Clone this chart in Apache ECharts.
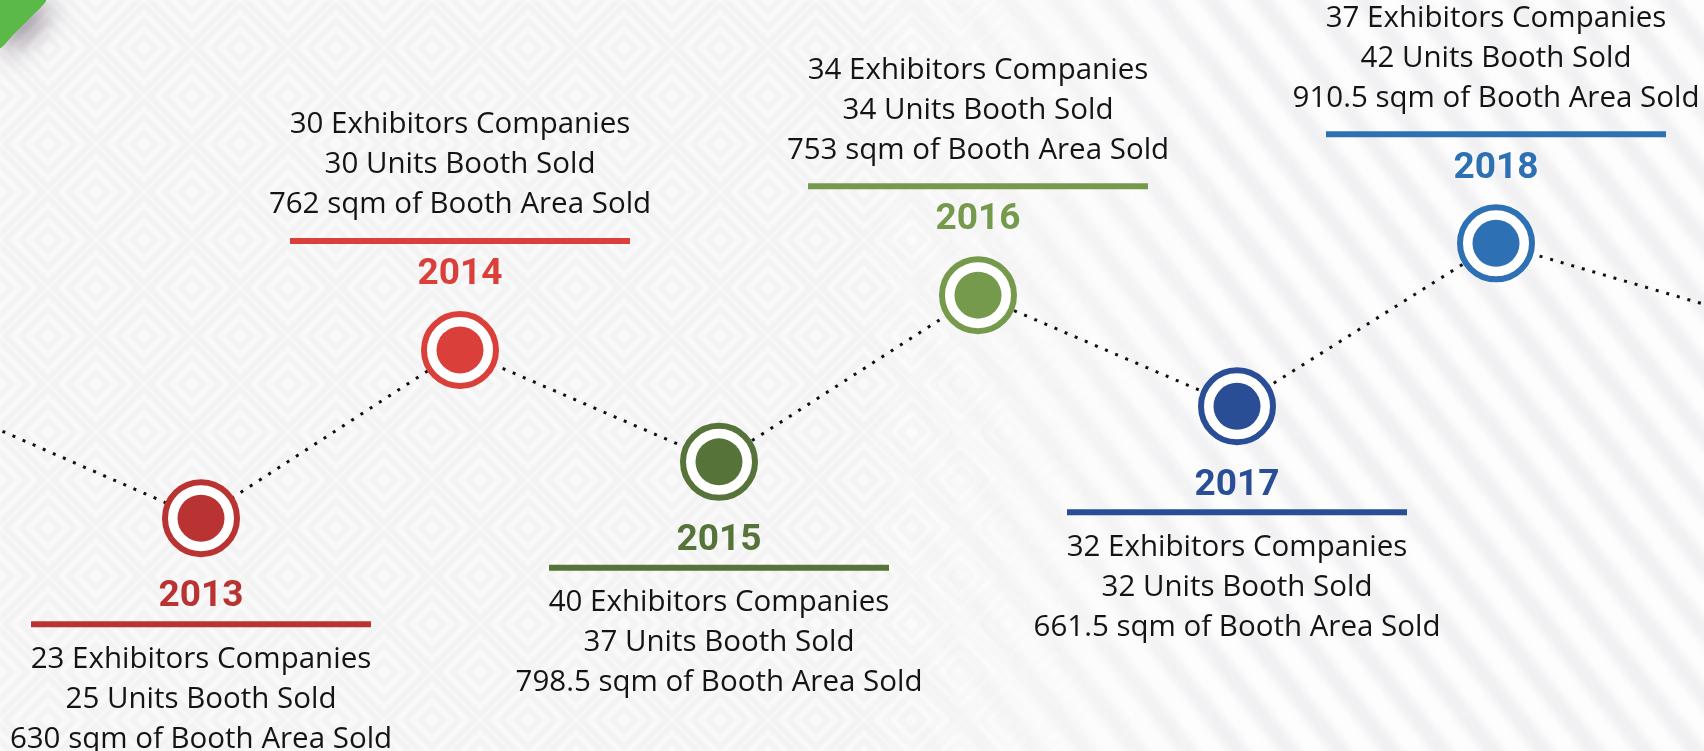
<!DOCTYPE html>
<html>
<head>
<meta charset="utf-8">
<script src="https://cdn.jsdelivr.net/npm/echarts@6/dist/echarts.min.js"></script>
<style>
html,body{margin:0;padding:0;background:#FAFAFA;}
#chart{width:1704px;height:751px;}
</style>
</head>
<body>
<div id="chart"></div>
<script>
// ---- data ----
// timeline categories (2012 and 2019 lie just outside the visible area; the dotted line runs to them)
const timelineYears = ['2012', '2013', '2014', '2015', '2016', '2017', '2018', '2019'];
// vertical level of each milestone on the zig-zag timeline (0-100 scale)
const timelineLevel = [46.1, 31.0, 53.4, 38.5, 60.7, 45.9, 67.6, 57.5];
// milestone years shown with markers
const milestoneYears = ['2013', '2014', '2015', '2016', '2017', '2018'];
const exhibitorCompanies = [23, 30, 40, 34, 32, 37];
const boothUnitsSold = [25, 30, 37, 34, 32, 42];
const boothAreaSqm = ['630', '762', '798.5', '753', '661.5', '910.5'];

// ---- styles ----
const yearColors = ['#B93333', '#DA3F3A', '#56733A', '#759A4C', '#2A4E96', '#2E70B4'];
const TEXT_FONT = '"Open Sans", sans-serif';
const YEAR_FONT = 'Roboto, "Open Sans", sans-serif';

function buildBackground(w, h) {
  const cv = document.createElement('canvas');
  cv.width = w; cv.height = h;
  const ctx = cv.getContext('2d');
  ctx.fillStyle = '#FAFAFA';
  ctx.fillRect(0, 0, w, h);

  // meander / diamond lattice on the left
  const P = 96;
  const tile = document.createElement('canvas');
  tile.width = P; tile.height = P;
  const t = tile.getContext('2d');
  t.fillStyle = '#FAFAFA'; t.fillRect(0, 0, P, P);
  t.strokeStyle = '#F3F3F3'; t.lineWidth = 6;
  const drawDiamonds = (cx, cy) => {
    t.save(); t.translate(cx, cy); t.rotate(Math.PI / 4);
    [16, 38, 60].forEach(s => t.strokeRect(-s / 2, -s / 2, s, s));
    t.restore();
  };
  drawDiamonds(P / 2, P / 2);
  drawDiamonds(0, 0); drawDiamonds(P, 0); drawDiamonds(0, P); drawDiamonds(P, P);

  const l1 = document.createElement('canvas');
  l1.width = w; l1.height = h;
  const c1 = l1.getContext('2d');
  c1.filter = 'blur(1px)';
  c1.fillStyle = c1.createPattern(tile, 'repeat');
  c1.fillRect(0, 0, w, h);
  c1.filter = 'none';
  c1.globalCompositeOperation = 'destination-in';
  let g = c1.createLinearGradient(0, 0, w, 0);
  g.addColorStop(0, 'rgba(0,0,0,1)');
  g.addColorStop(0.5, 'rgba(0,0,0,1)');
  g.addColorStop(0.72, 'rgba(0,0,0,0)');
  g.addColorStop(1, 'rgba(0,0,0,0)');
  c1.fillStyle = g; c1.fillRect(0, 0, w, h);
  ctx.drawImage(l1, 0, 0);

  // diagonal stripes on the right
  const l2 = document.createElement('canvas');
  l2.width = w; l2.height = h;
  const c2 = l2.getContext('2d');
  c2.fillStyle = '#FDFDFD'; c2.fillRect(0, 0, w, h);
  c2.save();
  c2.filter = 'blur(3px)';
  c2.translate(w * 0.8, h * 0.5);
  c2.rotate(52 * Math.PI / 180);
  c2.fillStyle = '#F1F1F3';
  for (let y = -1600; y < 1600; y += 40) c2.fillRect(-1600, y, 3200, 18);
  c2.restore();
  c2.globalCompositeOperation = 'destination-in';
  g = c2.createLinearGradient(0, 0, w, 0);
  g.addColorStop(0, 'rgba(0,0,0,0)');
  g.addColorStop(0.5, 'rgba(0,0,0,0)');
  g.addColorStop(0.72, 'rgba(0,0,0,1)');
  g.addColorStop(1, 'rgba(0,0,0,1)');
  c2.fillStyle = g; c2.fillRect(0, 0, w, h);
  ctx.drawImage(l2, 0, 0);
  return cv;
}

function labelFor(i, above) {
  const ci = i - 1; // index into milestone arrays
  const c = yearColors[ci];
  const lines = [
    '{t|' + exhibitorCompanies[ci] + ' Exhibitors Companies}',
    '{t|' + boothUnitsSold[ci] + ' Units Booth Sold}',
    '{t|' + boothAreaSqm[ci] + ' sqm of Booth Area Sold}'
  ];
  const year = '{y|' + milestoneYears[ci] + '}';
  const formatter = above
    ? lines.concat(['{sp2|}', '{bar|}', '{sp1|}', year]).join('\n')
    : [year, '{bar|}', '{sp|}'].concat(lines).join('\n');
  return {
    show: true,
    position: above ? 'top' : 'bottom',
    distance: above ? 16 : 20,
    formatter: formatter,
    rich: {
      y: { fontFamily: YEAR_FONT, fontWeight: 'bold', fontSize: 37, lineHeight: 40, color: c },
      t: { fontFamily: TEXT_FONT, fontSize: 29.5, lineHeight: 40, color: '#141414' },
      bar: { width: 340, height: 6, lineHeight: 14, backgroundColor: c },
      sp: { height: 8, lineHeight: 8, fontSize: 1 },
      sp1: { height: 7, lineHeight: 7, fontSize: 1 },
      sp2: { height: 9, lineHeight: 9, fontSize: 1 }
    }
  };
}

const isMilestone = (i) => milestoneYears.indexOf(timelineYears[i]) >= 0;

const ringData = timelineLevel.map((v, i) => {
  if (!isMilestone(i)) return { value: v, symbol: 'none', label: { show: false } };
  const above = v > timelineLevel[i - 1];
  return {
    value: v,
    symbol: 'circle',
    symbolSize: 72,
    itemStyle: { color: '#FFFFFF', borderColor: yearColors[i - 1], borderWidth: 6 },
    label: labelFor(i, above)
  };
});

const dotData = timelineLevel.map((v, i) => {
  if (!isMilestone(i)) return '-';
  return { value: v, itemStyle: { color: yearColors[i - 1] } };
});

const chart = echarts.init(document.getElementById('chart'), null, { renderer: 'canvas' });
chart.setOption({
  animation: false,
  backgroundColor: '#FAFAFA',
  graphic: [
    { type: 'image', z: -20, left: 0, top: 0, silent: true,
      style: { image: buildBackground(1704, 751), width: 1704, height: 751 } },
    { type: 'polygon', z: -10, silent: true,
      shape: { points: [[0, 0], [46, 0], [30, 18], [14, 34], [0, 48]], smooth: 0.2 },
      style: { fill: '#5AB947', shadowBlur: 26, shadowColor: 'rgba(70,50,80,0.55)', shadowOffsetX: 8, shadowOffsetY: 8 } }
  ],
  grid: { left: -58, right: -51, top: 0, bottom: 0, containLabel: false, outerBoundsMode: 'none' },
  xAxis: {
    type: 'category', data: timelineYears, boundaryGap: false, show: false
  },
  yAxis: { type: 'value', min: 0, max: 100, show: false },
  series: [
    {
      name: 'timeline', type: 'line', z: 2,
      data: ringData,
      lineStyle: { color: '#111111', width: 3, type: [3, 8], cap: 'butt' },
      emphasis: { disabled: true },
      labelLayout: { hideOverlap: false }
    },
    {
      name: 'dots', type: 'line', z: 3,
      data: dotData,
      symbol: 'circle', symbolSize: 47, showSymbol: true,
      lineStyle: { opacity: 0, width: 0 },
      emphasis: { disabled: true }
    }
  ]
});
</script>
</body>
</html>
